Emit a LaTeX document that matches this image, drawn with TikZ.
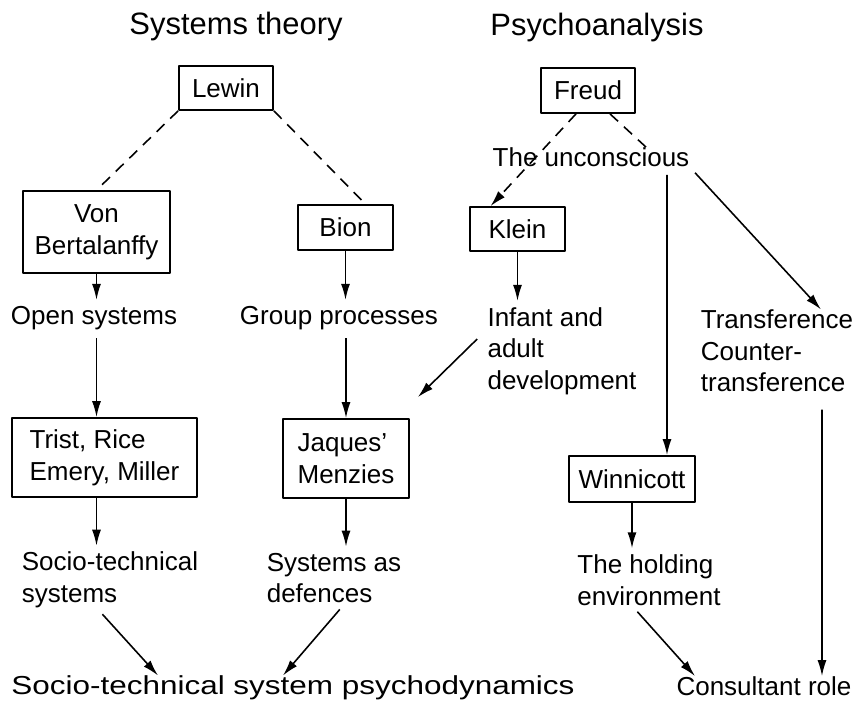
\documentclass[tikz,border=0pt]{standalone}
\usepackage{fontspec}
\usepackage{graphicx}
\setmainfont{Liberation Sans}
\usetikzlibrary{arrows.meta}
\begin{document}
\begin{tikzpicture}[x=0.02cm,y=-0.02cm,line join=round,>={Latex[length=0.32cm,width=0.18cm]},font=\fontsize{14.8}{18}\selectfont,
box/.style={draw,line width=1pt,inner sep=0pt,align=center},
lbl/.style={inner sep=0pt,align=left},
link/.style={->,line width=0.9pt},
dashlink/.style={line width=0.9pt,dash pattern=on 0.22cm off 0.16cm},
fromtxt/.style={shorten <=0.16cm},
totxt/.style={shorten >=0.12cm}]
\useasboundingbox (0,0) rectangle (856,703);
\node[lbl,font=\fontsize{17.6}{21}\selectfont] (systh) at (236,27) {Systems theory};
\node[lbl,font=\fontsize{17.6}{21}\selectfont] (psyan) at (597,28) {Psychoanalysis};
\node[box,minimum width=1.88cm,minimum height=0.88cm] (lewin) at (226,88) {Lewin};
\node[box,minimum width=2.94cm,minimum height=1.64cm] (vonb) at (96.5,232) {Von\\Bertalanffy};
\node[box,minimum width=1.9cm,minimum height=0.9cm] (bion) at (345.5,227.5) {Bion};
\node[lbl] (opensys) at (94,318) {Open systems};
\node[lbl] (groupproc) at (339,318) {Group processes};
\node[box,align=left,minimum width=3.7cm,minimum height=1.58cm] (trist) at (104.5,457.5) {Trist, Rice\\Emery, Miller};
\node[box,align=left,minimum width=2.52cm,minimum height=1.58cm] (jaques) at (346,458.5) {Jaques'\\Menzies};
\node[lbl] (sociotech) at (110,580) {Socio-technical\\systems};
\node[lbl] (sysdef) at (334,578) {Systems as\\defences};
\node[lbl] (stsp) at (293,688) {\scalebox{1.21}[1]{Socio-technical system psychodynamics}};
\node[box,minimum width=1.88cm,minimum height=0.9cm] (freud) at (588,90.5) {Freud};
\node[lbl] (uncon) at (591,157) {The unconscious};
\node[box,minimum width=1.9cm,minimum height=0.88cm] (klein) at (517.5,229) {Klein};
\node[lbl] (infant) at (562,351) {Infant and\\adult\\development};
\node[lbl] (transf) at (777,351) {Transference\\Counter-\\transference};
\node[box,minimum width=2.52cm,minimum height=0.92cm] (winni) at (632,479) {Winnicott};
\node[lbl] (holding) at (649,580) {The holding\\environment};
\node[lbl] (consult) at (764,686) {Consultant role};
\draw[dashlink] (lewin.south west) -- (vonb.north);
\draw[dashlink] (lewin.south east) -- ([xshift=0.4cm]bion.north);
\draw[link,totxt] (vonb.south) -- (vonb.south |- opensys.north);
\draw[link,totxt] (bion.south) -- (bion.south |- groupproc.north);
\draw[link,fromtxt] (opensys.south -| vonb.south) -- (vonb.south |- trist.north);
\draw[link,fromtxt] (jaques.north |- groupproc.south) -- (jaques.north);
\draw[link,totxt] (trist.south -| vonb.south) -- (vonb.south |- sociotech.north);
\draw[link,totxt] (jaques.south) -- (jaques.south |- sysdef.north);
\draw[link,fromtxt] ([xshift=-0.26cm]sociotech.south) -- ([xshift=-2.7cm]stsp.north);
\draw[link,fromtxt] ([xshift=0.22cm]sysdef.south) -- ([xshift=-0.2cm]stsp.north);
\draw[dashlink,->] ([xshift=-0.24cm]freud.south) -- ([xshift=-0.54cm]klein.north);
\draw[dashlink] ([xshift=0.44cm]freud.south) -- ([xshift=1.1cm]uncon.north);
\draw[link,fromtxt] ([xshift=1.52cm]uncon.south) -- ([xshift=0.7cm]winni.north);
\draw[link,fromtxt] (uncon.south east) -- ([xshift=0.88cm]transf.north);
\draw[link,totxt] (klein.south) -- (klein.south |- infant.north);
\draw[link] ([xshift=-0.2cm,yshift=0.24cm]infant.west) -- ([xshift=0.16cm,yshift=0.42cm]jaques.north east);
\draw[link,shorten <=0.34cm] ([xshift=0.9cm]transf.south) -- ([xshift=1.16cm]consult.north);
\draw[link,totxt] (winni.south) -- (winni.south |- holding.north);
\draw[link,fromtxt] ([xshift=-0.34cm]holding.south) -- ([xshift=-1.38cm]consult.north);
\end{tikzpicture}
\end{document}
